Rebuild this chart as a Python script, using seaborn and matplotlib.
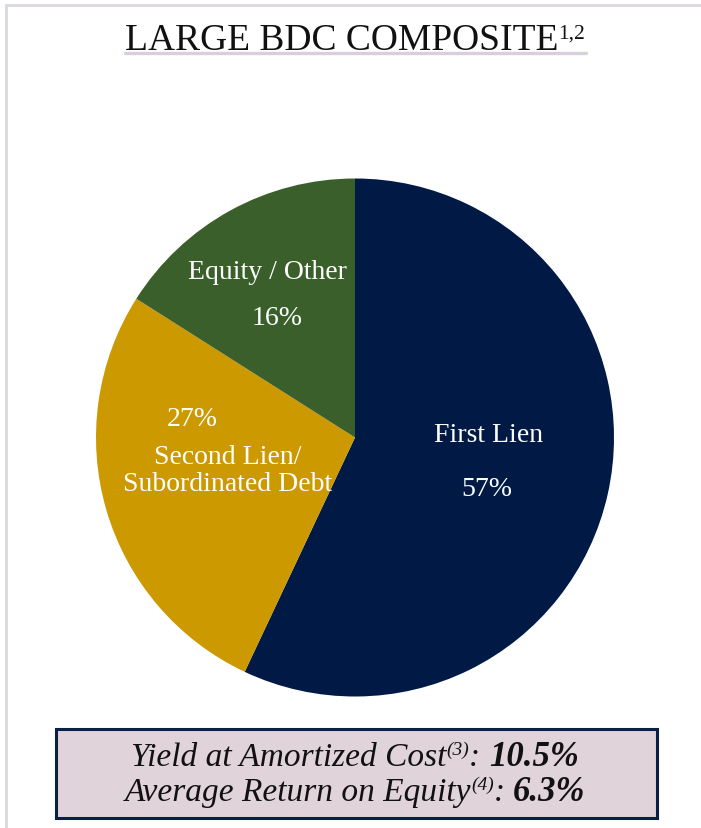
import matplotlib
matplotlib.use("Agg")
import matplotlib.pyplot as plt
from matplotlib.patches import Rectangle
from matplotlib.lines import Line2D
import seaborn as sns

# Portfolio composition data
segments = ["First Lien", "Second Lien/\nSubordinated Debt", "Equity / Other"]
shares = [57, 27, 16]
slice_colors = ["#001A45", "#CC9900", "#3A5F2B"]

title_text = "LARGE BDC COMPOSITE"
title_note = "1,2"
metric_names = ["Yield at Amortized Cost", "Average Return on Equity"]
metric_notes = ["(3)", "(4)"]
metric_values = [10.5, 6.3]

sns.set_theme(style="white")
plt.rcParams["font.family"] = ["Liberation Serif", "DejaVu Serif"]

W, H = 701, 829
fig = plt.figure(figsize=(W / 100, H / 100), dpi=100)
fig.patch.set_facecolor("white")

# Pie chart
cx, cy, r = 355, 438.5, 259
pax = fig.add_axes([(cx - r) / W, (H - cy - r) / H, 2 * r / W, 2 * r / H])
pax.pie(shares, colors=slice_colors, startangle=90, counterclock=False,
        radius=1, wedgeprops=dict(linewidth=0))
pax.set_xlim(-1, 1)
pax.set_ylim(-1, 1)
pax.set_aspect("auto")
pax.axis("off")

# Overlay axes in pixel coordinates for frame, labels, title and metrics box
ov = fig.add_axes([0, 0, 1, 1], zorder=5)
ov.set_xlim(0, W)
ov.set_ylim(H, 0)
ov.axis("off")
ov.patch.set_alpha(0)

frame_c = "#DCD7DE"
ov.add_line(Line2D([6, W], [6, 6], color=frame_c, lw=2))
ov.add_line(Line2D([6, 6], [6, H], color=frame_c, lw=2))

lab_fs = 20
# label placements (pixels): name position, value position
name_pos = [(489, 436), (228, 471), (267, 272)]
val_pos = [(487, 490), (192, 419), (277, 318)]
for name, v, npos, vpos in zip(segments, shares, name_pos, val_pos):
    ov.text(*npos, name, color="white", fontsize=lab_fs, ha="center",
            va="center", linespacing=1.12)
    ov.text(*vpos, f"{v}%", color="white", fontsize=lab_fs, ha="center",
            va="center")

fig.canvas.draw()
renderer = fig.canvas.get_renderer()


def place_runs(y, parts, xc=355):
    """Lay out text runs side by side on a shared baseline, centred at xc."""
    objs = []
    for txt, props, dy in parts:
        t = ov.text(0, y - dy, txt, va="baseline", ha="left", **props)
        objs.append(t)
    widths = [t.get_window_extent(renderer).width for t in objs]
    x = xc - sum(widths) / 2
    for t, w in zip(objs, widths):
        t.set_x(x)
        x += w
    return xc - sum(widths) / 2, x


# Title with superscript note and underline
x0, x1 = place_runs(50, [(title_text, dict(fontsize=27, color="#111111"), 0),
                         (title_note, dict(fontsize=15.5, color="#111111"), 11)])
ov.add_line(Line2D([x0, x1 + 1], [53.5, 53.5], color="#D8CFDA", lw=2.4))

# Metrics box
ov.add_patch(Rectangle((55.5, 730), 601, 88.5, facecolor="#E0D3DA",
                       edgecolor="#0A1F45", lw=2.2))
base_y = [765.5, 801]
for name, note, val, by in zip(metric_names, metric_notes, metric_values, base_y):
    place_runs(by, [
        (name, dict(fontsize=24, style="italic", color="#111111"), 0),
        (note, dict(fontsize=14, style="italic", color="#111111"), 11),
        (": ", dict(fontsize=24, style="italic", color="#111111"), 0),
        (f"{val}%", dict(fontsize=25, style="italic", weight="bold",
                         color="#111111"), 0),
    ])

fig.savefig("out.png", dpi=100, facecolor="white")
